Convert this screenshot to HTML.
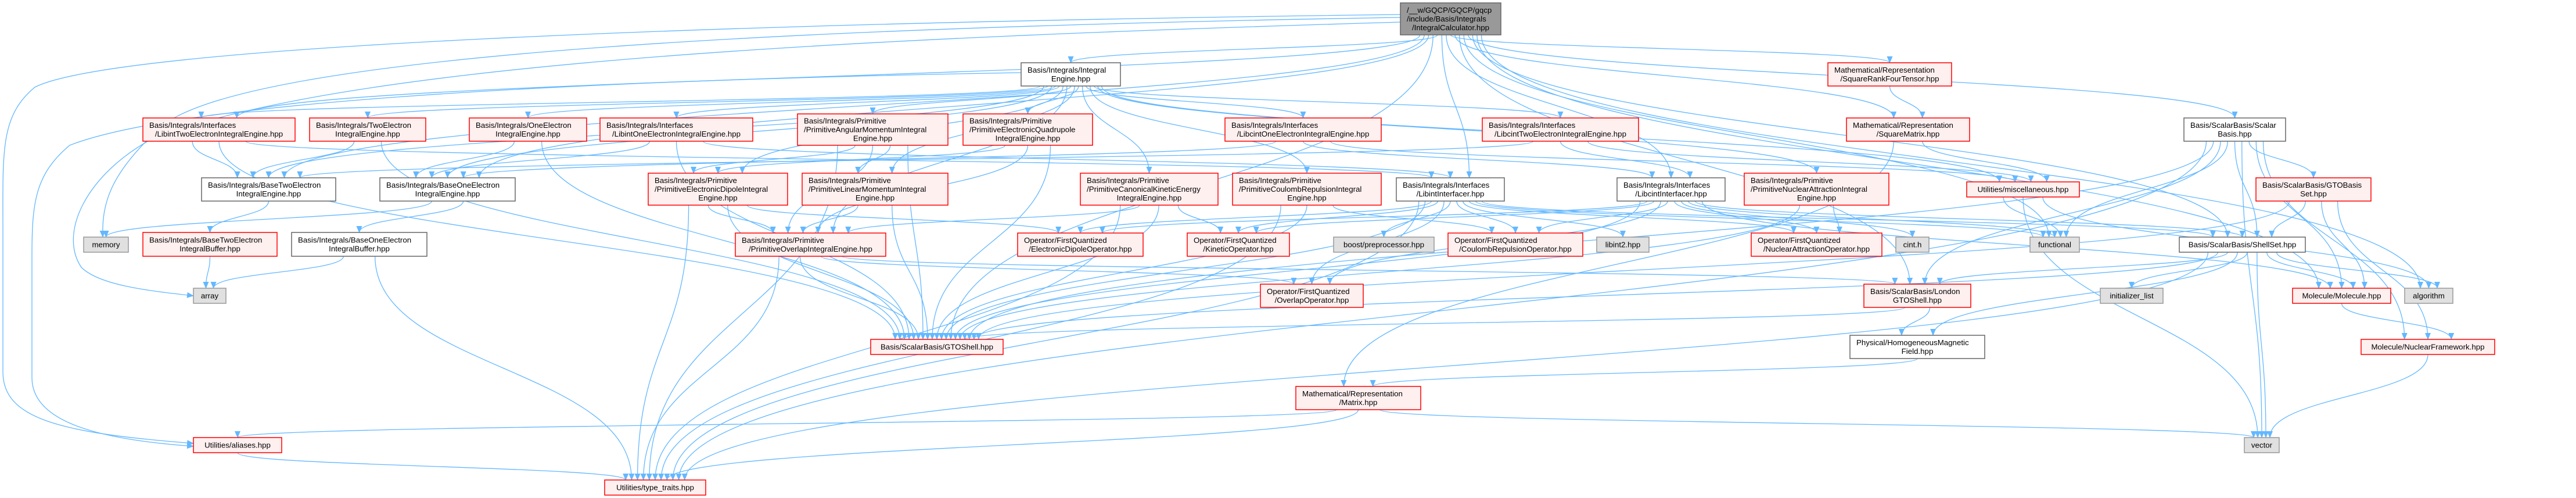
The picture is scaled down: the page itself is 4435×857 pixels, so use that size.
<!DOCTYPE html>
<html><head><meta charset="utf-8">
<style>
html,body{margin:0;padding:0;background:#fff;overflow:hidden;}
svg{display:block;}
text{font-family:"Liberation Sans",Arial,sans-serif;font-size:13.3px;fill:#000;}
</style></head>
<body>
<svg id="g" width="4435" height="857" viewBox="0 0 4435 857" xmlns="http://www.w3.org/2000/svg">
<defs>
<marker id="ar" markerWidth="12" markerHeight="10" refX="11" refY="5" orient="auto" markerUnits="userSpaceOnUse">
<path d="M0,0 L12,5 L0,10 z" fill="#63b8ff"/>
</marker>
</defs>
<g id="edges" fill="none" stroke="#63b8ff" stroke-width="1.3">
<path marker-end="url(#ar)" d="M2411,25 C1200,40 200,80 60,150 C0,200 5,260 5,400 L5,640 C5,720 100,745 333,763"/>
<path marker-end="url(#ar)" d="M1758,125 C900,140 300,180 120,250 C60,300 55,350 55,440 L55,650 C55,720 150,755 333,768"/>
<path marker-end="url(#ar)" d="M2411,30 C1500,45 400,85 270,225 C190,300 175,350 177,408"/>
<path marker-end="url(#ar)" d="M2411,38 C1500,65 600,105 260,240 C150,300 100,400 140,460 C170,490 250,500 333,509"/>
</g>
<g id="nodes"></g>
</svg>
<script>
(function(){
var N={
root:[2411,2584,5,60,'k',["/__w/GQCP/GQCP/gqcp","/include/Basis/Integrals","/IntegralCalculator.hpp"]],
IE:[1758,1929,108,148,'w',["Basis/Integrals/Integral","Engine.hpp"]],
SRFT:[3147,3360,108,148,'r',["Mathematical/Representation","/SquareRankFourTensor.hpp"]],
LTE:[246,508,203,243,'r',["Basis/Integrals/Interfaces","/LibintTwoElectronIntegralEngine.hpp"]],
TE:[533,733,203,243,'r',["Basis/Integrals/TwoElectron","IntegralEngine.hpp"]],
OE:[808,1010,203,243,'r',["Basis/Integrals/OneElectron","IntegralEngine.hpp"]],
LOE:[1033,1296,203,243,'r',["Basis/Integrals/Interfaces","/LibintOneElectronIntegralEngine.hpp"]],
PAM:[1373,1632,196,250,'r',["Basis/Integrals/Primitive","/PrimitiveAngularMomentumIntegral","Engine.hpp"]],
PEQ:[1658,1881,196,250,'r',["Basis/Integrals/Primitive","/PrimitiveElectronicQuadrupole","IntegralEngine.hpp"]],
COE:[2109,2378,203,243,'r',["Basis/Integrals/Interfaces","/LibcintOneElectronIntegralEngine.hpp"]],
CTE:[2552,2821,203,243,'r',["Basis/Integrals/Interfaces","/LibcintTwoElectronIntegralEngine.hpp"]],
SM:[3179,3391,203,243,'r',["Mathematical/Representation","/SquareMatrix.hpp"]],
SB:[3760,3935,203,243,'w',["Basis/ScalarBasis/Scalar","Basis.hpp"]],
BTE:[347,578,306,346,'w',["Basis/Integrals/BaseTwoElectron","IntegralEngine.hpp"]],
BOE:[654,887,306,346,'w',["Basis/Integrals/BaseOneElectron","IntegralEngine.hpp"]],
PED:[1116,1356,298,353,'r',["Basis/Integrals/Primitive","/PrimitiveElectronicDipoleIntegral","Engine.hpp"]],
PLM:[1381,1632,298,353,'r',["Basis/Integrals/Primitive","/PrimitiveLinearMomentumIntegral","Engine.hpp"]],
PKE:[1860,2097,298,353,'r',["Basis/Integrals/Primitive","/PrimitiveCanonicalKineticEnergy","IntegralEngine.hpp"]],
PCR:[2122,2378,298,353,'r',["Basis/Integrals/Primitive","/PrimitiveCoulombRepulsionIntegral","Engine.hpp"]],
LI:[2404,2590,306,346,'w',["Basis/Integrals/Interfaces","/LibintInterfacer.hpp"]],
CI:[2784,2970,306,346,'w',["Basis/Integrals/Interfaces","/LibcintInterfacer.hpp"]],
PNA:[3003,3252,298,353,'r',["Basis/Integrals/Primitive","/PrimitiveNuclearAttractionIntegral","Engine.hpp"]],
MISC:[3386,3580,313,339,'r',["Utilities/miscellaneous.hpp"]],
GTOBS:[3884,4082,306,346,'r',["Basis/ScalarBasis/GTOBasis","Set.hpp"]],
MEM:[144,221,408,434,'g',["memory"]],
BTB:[246,477,400,441,'r',["Basis/Integrals/BaseTwoElectron","IntegralBuffer.hpp"]],
BOB:[502,735,400,441,'w',["Basis/Integrals/BaseOneElectron","IntegralBuffer.hpp"]],
POV:[1266,1525,401,441,'r',["Basis/Integrals/Primitive","/PrimitiveOverlapIntegralEngine.hpp"]],
EDO:[1752,1968,401,441,'r',["Operator/FirstQuantized","/ElectronicDipoleOperator.hpp"]],
KO:[2044,2220,401,441,'r',["Operator/FirstQuantized","/KineticOperator.hpp"]],
BOOST:[2296,2469,408,434,'g',["boost/preprocessor.hpp"]],
CRO:[2493,2725,401,441,'r',["Operator/FirstQuantized","/CoulombRepulsionOperator.hpp"]],
LIB2:[2749,2839,408,434,'g',["libint2.hpp"]],
NAO:[3015,3240,401,441,'r',["Operator/FirstQuantized","/NuclearAttractionOperator.hpp"]],
CINT:[3264,3321,408,434,'g',["cint.h"]],
FUNC:[3495,3580,408,434,'g',["functional"]],
SS:[3752,3969,408,434,'w',["Basis/ScalarBasis/ShellSet.hpp"]],
ARR:[333,389,496,522,'g',["array"]],
OVO:[2170,2347,489,529,'r',["Operator/FirstQuantized","/OverlapOperator.hpp"]],
LGS:[3209,3393,489,529,'r',["Basis/ScalarBasis/London","GTOShell.hpp"]],
INIT:[3616,3724,496,522,'g',["initializer_list"]],
MOL:[3947,4116,496,522,'r',["Molecule/Molecule.hpp"]],
ALG:[4140,4223,496,522,'g',["algorithm"]],
GTOS:[1499,1727,584,610,'r',["Basis/ScalarBasis/GTOShell.hpp"]],
HMF:[3185,3417,577,617,'w',["Physical/HomogeneousMagnetic","Field.hpp"]],
NF:[4065,4295,584,610,'r',["Molecule/NuclearFramework.hpp"]],
MAT:[2231,2446,665,705,'r',["Mathematical/Representation","/Matrix.hpp"]],
ALI:[333,485,753,779,'r',["Utilities/aliases.hpp"]],
VEC:[3864,3924,753,779,'g',["vector"]],
TT:[1041,1215,826,852,'r',["Utilities/type_traits.hpp"]]
};
var E={
root:["BTE","BOE","LTE","IE","LI","CI","SRFT","SM","SB","SS","MOL","ALG","LGS","GTOS","FUNC"],
IE:["LTE","TE","OE","LOE","PAM","PEQ","PED","POV","PLM","PKE","PCR","COE","CTE","PNA","MISC","BTE","BOE"],
LTE:["BTE","GTOS","LI"],TE:["BTE","GTOS"],OE:["BOE","GTOS"],LOE:["BOE","LI","GTOS"],
PAM:["PED","PLM","POV","GTOS","TT"],PEQ:["PED","POV","GTOS"],
COE:["BOE","CI","MISC"],CTE:["BTE","CI","MISC"],
PED:["POV","EDO","GTOS","TT"],PLM:["POV","GTOS"],PKE:["POV","KO","GTOS","TT"],
PCR:["CRO","GTOS","TT"],PNA:["NAO","GTOS"],POV:["OVO","GTOS","TT","LGS"],
BTE:["BTB"],BOE:["MEM","BOB"],BTB:["ARR"],BOB:["ARR","TT"],
LI:["EDO","KO","BOOST","CRO","LIB2","NAO","OVO","SS","GTOS","FUNC","TT"],
CI:["CINT","CRO","NAO","OVO","SS","GTOS","FUNC","MOL","KO","EDO"],
SRFT:["SM"],SM:["MISC","MAT"],MISC:["FUNC","ALG","VEC"],
SB:["GTOBS","SS","FUNC","LGS","GTOS","MOL","NF","TT","VEC"],
GTOBS:["SS","MOL","NF","GTOS"],
SS:["INIT","MOL","ALG","VEC","LGS","GTOS","HMF","TT"],
LGS:["HMF","GTOS"],HMF:["MAT"],MAT:["ALI","TT","VEC"],ALI:["TT"],MOL:["NF"],NF:["VEC"]
};
var NS="http://www.w3.org/2000/svg";
var inc={};
for(var s in E){E[s].forEach(function(t){(inc[t]=inc[t]||[]).push(s);});}
function cx(k){return (N[k][0]+N[k][1])/2;}
for(var t in inc){inc[t].sort(function(a,b){return cx(a)-cx(b);});}
var eg=document.getElementById('edges');
for(var s2 in E){
  (function(s){
  var a=N[s];var outs=E[s].slice().sort(function(p,q){return cx(p)-cx(q);});
  outs.forEach(function(t,i){
    var b=N[t];var ins=inc[t];var j=ins.indexOf(s);
    var w1=a[1]-a[0],w2=b[1]-b[0];
    var sx=a[0]+w1*0.15+w1*0.7*(i+1)/(outs.length+1);
    var sy=a[3];
    var tx=b[0]+w2*0.15+w2*0.7*(j+1)/(ins.length+1);
    var ty=b[2];
    var dy=(ty-sy)*0.5;
    var p=document.createElementNS(NS,'path');
    p.setAttribute('d','M'+sx+','+sy+' C'+sx+','+(sy+dy)+' '+tx+','+(ty-dy)+' '+tx+','+ty);
    p.setAttribute('marker-end','url(#ar)');
    eg.appendChild(p);
  });
  })(s2);
}
var ng=document.getElementById('nodes');
var sty={r:['#fff0f0','#ff0000'],w:['#ffffff','#666666'],g:['#e0e0e0','#999999'],k:['#999999','#666666']};
for(var k in N){
  var n=N[k];var r=document.createElementNS(NS,'rect');
  r.setAttribute('x',n[0]);r.setAttribute('y',n[2]);
  r.setAttribute('width',n[1]-n[0]);r.setAttribute('height',n[3]-n[2]);
  r.setAttribute('fill',sty[n[4]][0]);r.setAttribute('stroke',sty[n[4]][1]);r.setAttribute('stroke-width','1.5');
  ng.appendChild(r);
  var L=n[5];var h=n[3]-n[2];var ty0=n[2]+(h-L.length*15)/2;
  for(var i=0;i<L.length;i++){
    var tx=document.createElementNS(NS,'text');
    var last=(i==L.length-1);
    if(last){tx.setAttribute('x',(n[0]+n[1])/2);tx.setAttribute('text-anchor','middle');}
    else{tx.setAttribute('x',n[0]+11);}
    tx.setAttribute('y',ty0+15*i+12);
    tx.textContent=L[i];ng.appendChild(tx);
  }
}
})();
</script>
</body></html>
